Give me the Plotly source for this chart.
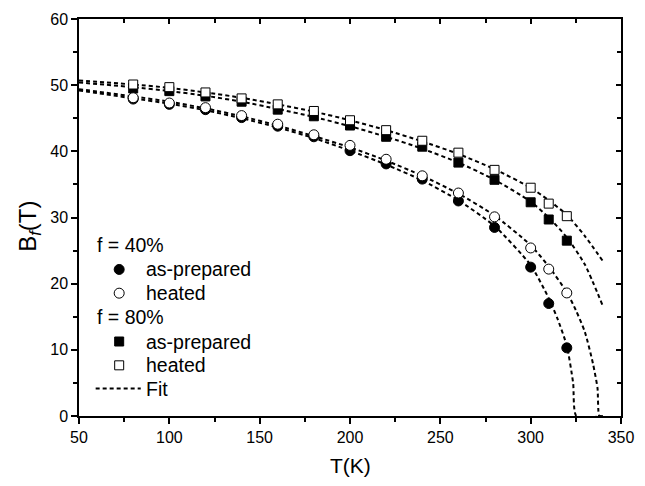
import plotly.graph_objects as go

# ---- data ----
T = [80, 100, 120, 140, 160, 180, 200, 220, 240, 260, 280, 300, 310, 320]
f40_prepared = [47.9, 47.1, 46.3, 45.1, 43.8, 42.2, 40.1, 38.1, 35.8, 32.5, 28.5, 22.5, 17.0, 10.3]
f40_heated = [48.1, 47.3, 46.6, 45.4, 44.1, 42.5, 40.9, 38.8, 36.3, 33.7, 30.1, 25.4, 22.2, 18.6]
f80_prepared = [49.5, 49.1, 48.3, 47.5, 46.3, 45.3, 43.9, 42.2, 40.7, 38.3, 35.7, 32.3, 29.7, 26.5]
f80_heated = [50.1, 49.7, 48.9, 48.0, 47.1, 46.1, 44.7, 43.2, 41.6, 39.8, 37.2, 34.5, 32.1, 30.2]

fitT_80 = [50, 80, 100, 120, 140, 160, 180, 200, 220, 240, 260, 280, 300, 310, 320, 330, 340]
fit_80_heated = [50.7, 50.1, 49.6, 48.9, 48.1, 47.1, 46.0, 44.7, 43.2, 41.5, 39.6, 37.3, 34.5, 32.6, 30.4, 27.2, 23.4]
fit_80_prepared = [50.4, 49.7, 49.1, 48.4, 47.5, 46.4, 45.2, 43.8, 42.2, 40.4, 38.3, 35.7, 32.4, 30.0, 27.0, 22.9, 16.6]

fitT_40h = [50, 80, 100, 120, 140, 160, 180, 200, 220, 240, 260, 280, 300, 310, 320, 325, 330, 334.5, 337, 338, 340]
fit_40_heated = [49.4, 48.3, 47.5, 46.5, 45.3, 43.9, 42.3, 40.6, 38.6, 36.3, 33.6, 30.3, 25.8, 22.6, 18.7, 16.0, 12.7, 7.9, 4.2, 0.0, 0.0]
fitT_40p = [50, 80, 100, 120, 140, 160, 180, 200, 220, 240, 260, 280, 300, 310, 315, 320, 323.5, 325.3, 340]
fit_40_prepared = [49.2, 48.0, 47.2, 46.2, 45.0, 43.6, 42.0, 40.1, 38.0, 35.6, 32.6, 28.7, 22.8, 17.8, 14.6, 10.6, 5.0, 0.0, 0.0]

x_ticks = [50, 100, 150, 200, 250, 300, 350]
y_ticks = [0, 10, 20, 30, 40, 50, 60]

FONT = "Arial, Liberation Sans, sans-serif"
DASH = "4px,3px"

fig = go.Figure()

for fx, fy in [(fitT_80, fit_80_heated), (fitT_80, fit_80_prepared),
               (fitT_40h, fit_40_heated), (fitT_40p, fit_40_prepared)]:
    fig.add_trace(go.Scatter(x=fx, y=fy, mode="lines",
                             line=dict(color="black", width=2, dash=DASH, shape="spline", smoothing=0.6),
                             showlegend=False, hoverinfo="skip"))

fig.add_trace(go.Scatter(x=T, y=f80_prepared, mode="markers",
                         marker=dict(symbol="square", size=9, color="black", line=dict(color="black", width=1)),
                         showlegend=False))
fig.add_trace(go.Scatter(x=T, y=f80_heated, mode="markers",
                         marker=dict(symbol="square", size=9, color="white", line=dict(color="black", width=1)),
                         showlegend=False))
fig.add_trace(go.Scatter(x=T, y=f40_prepared, mode="markers",
                         marker=dict(symbol="circle", size=10, color="black", line=dict(color="black", width=1)),
                         showlegend=False))
fig.add_trace(go.Scatter(x=T, y=f40_heated, mode="markers",
                         marker=dict(symbol="circle", size=10, color="white", line=dict(color="black", width=1)),
                         showlegend=False))

# dummy trace for top/right mirror axes
fig.add_trace(go.Scatter(x=[None], y=[None], xaxis="x2", yaxis="y2", showlegend=False, hoverinfo="skip"))

# ---- manual legend (pixel-placed in paper coords) ----
L, R, TOP, BOT = 79, 632, 11, 416
def px(xp):
    return (xp - L) / (R - L)
def py(yp):
    return (BOT - yp) / (BOT - TOP)

rows = [242, 266.5, 290.7, 315.5, 340, 364.3, 388]
headers = [(rows[0], "f = 40%"), (rows[3], "f = 80%")]
items = [(rows[1], "circle", "black", "as-prepared"),
         (rows[2], "circle", "white", "heated"),
         (rows[4], "rect", "black", "as-prepared"),
         (rows[5], "rect", "white", "heated")]
LEG = 19.5
for yy, txt in headers:
    fig.add_annotation(x=px(95), y=py(yy), xref="paper", yref="paper", text=txt, showarrow=False,
                       xanchor="left", yanchor="middle", font=dict(family=FONT, size=LEG, color="black"))
for yy, shp, col, txt in items:
    sz = 5 if shp == "circle" else 4.5
    fig.add_shape(type=shp, xref="paper", yref="paper", xsizemode="pixel", ysizemode="pixel",
                  xanchor=px(120), yanchor=py(yy), x0=-sz, x1=sz, y0=-sz, y1=sz,
                  fillcolor=col, line=dict(color="black", width=1))
    fig.add_annotation(x=px(145), y=py(yy), xref="paper", yref="paper", text=txt, showarrow=False,
                       xanchor="left", yanchor="middle", font=dict(family=FONT, size=LEG, color="black"))
fig.add_shape(type="line", xref="paper", yref="paper", x0=px(96), x1=px(142), y0=py(rows[6]), y1=py(rows[6]),
              line=dict(color="black", width=2, dash=DASH))
fig.add_annotation(x=px(145), y=py(rows[6]), xref="paper", yref="paper", text="Fit", showarrow=False,
                   xanchor="left", yanchor="middle", font=dict(family=FONT, size=LEG, color="black"))

# axis titles
fig.add_annotation(x=0.5, y=py(466), xref="paper", yref="paper", text="T(K)", showarrow=False,
                   xanchor="center", yanchor="middle", font=dict(family=FONT, size=21, color="black"))
fig.add_annotation(x=px(29), y=py(222), xref="paper", yref="paper", text="B<sub><i>f</i></sub>(T)",
                   showarrow=False, textangle=-90, xanchor="center", yanchor="middle",
                   font=dict(family=FONT, size=24, color="black"))

axis_common = dict(showgrid=False, zeroline=False, linecolor="black", linewidth=1.5,
                   tickcolor="black", tickwidth=1.5, tickfont=dict(family=FONT, size=16, color="black"))

fig.update_layout(
    width=645, height=486,
    margin=dict(l=L, r=645 - R, t=TOP, b=486 - BOT),
    plot_bgcolor="white", paper_bgcolor="white",
    showlegend=False,
    xaxis=dict(range=[50, 350], tickvals=x_ticks, ticktext=[str(v) for v in x_ticks],
               ticks="outside", ticklen=6, showline=True, mirror=True, ticklabeloverflow="allow",
               minor=dict(dtick=25, tick0=50, ticks="outside", ticklen=4, tickcolor="black", tickwidth=1.5),
               **axis_common),
    yaxis=dict(range=[0, 60], tickvals=y_ticks, ticktext=[str(v) for v in y_ticks],
               ticks="outside", ticklen=6, showline=True, mirror=True, ticklabeloverflow="allow",
               minor=dict(dtick=5, tick0=0, ticks="outside", ticklen=4, tickcolor="black", tickwidth=1.5),
               **axis_common),
    xaxis2=dict(range=[50, 350], overlaying="x", side="top", anchor="y2", tickvals=x_ticks,
                showticklabels=False, ticks="inside", ticklen=5, showgrid=False, zeroline=False,
                tickcolor="black", tickwidth=1.5, showline=False,
                minor=dict(dtick=25, tick0=50, ticks="inside", ticklen=4, tickcolor="black", tickwidth=1.5)),
    yaxis2=dict(range=[0, 60], overlaying="y", side="right", anchor="x2", tickvals=y_ticks,
                showticklabels=False, ticks="inside", ticklen=5, showgrid=False, zeroline=False,
                tickcolor="black", tickwidth=1.5, showline=False,
                minor=dict(dtick=5, tick0=0, ticks="inside", ticklen=4, tickcolor="black", tickwidth=1.5)),
)

fig.write_html("out.html", config={"displayModeBar": False},
               post_script="document.body.style.margin='0';document.body.style.overflow='hidden';")
